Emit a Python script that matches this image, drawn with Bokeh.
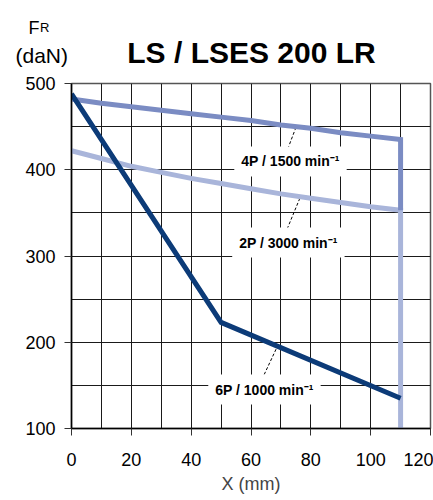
import numpy as np
from bokeh.plotting import figure
from bokeh.layouts import column
from bokeh.models import Label, SingleIntervalTicker, FixedTicker, Range1d
from bokeh.core.properties import value
from bokeh.embed import file_html
from bokeh.resources import INLINE

# ---- data ----
title_text = "LS / LSES 200 LR"
unit_main = "F"
unit_sub = "R"
unit_text = "(daN)"
x_label = "X (mm)"
x_ticks = [0, 20, 40, 60, 80, 100, 120]
y_ticks = [100, 200, 300, 400, 500]

# 4P / 1500 min-1 (ends with the vertical limit at X = 110)
x_4p = [0, 10, 20, 30, 40, 50, 60, 70, 80, 90, 100, 110, 110]
y_4p = [482, 477, 473, 469, 465, 461, 457, 452, 448, 443, 439, 435, 353]

# 2P / 3000 min-1
x_2p = [0, 10, 20, 30, 40, 50, 60, 70, 80, 90, 100, 110, 110]
y_2p = [422, 413, 404, 397, 390, 384, 378, 372, 367, 362, 357, 353, 100]

# 6P / 1000 min-1
x_6p = [0, 50, 110]
y_6p = [488, 223, 135]

names = ["4P / 1500 min\u207b\u00b9", "2P / 3000 min\u207b\u00b9", "6P / 1000 min\u207b\u00b9"]
colors = ["#7b8cc3", "#a9b5da", "#0c3b78"]

FONT = "Liberation Sans"
W, H = 433, 500
HEAD = 70

# ---------- header (title and unit) ----------
h = figure(width=W, height=HEAD, x_range=Range1d(0, W), y_range=Range1d(HEAD, 0),
           output_backend="svg", toolbar_location=None, min_border=0, title=None,
           x_axis_location=None, y_axis_location=None,
           background_fill_color="white", border_fill_color="white")
h.grid.visible = False
h.outline_line_color = None
h.text(x=[251], y=[52], text=[title_text], text_align="center", text_baseline="alphabetic",
       text_font=value(FONT), text_font_style="bold", text_font_size="30px", text_color="black")
h.text(x=[28], y=[27], text=[unit_main], text_align="left", text_baseline="alphabetic",
       text_font=value(FONT), text_font_size="18px", text_color="black")
h.text(x=[39.5], y=[27], text=[unit_sub], text_align="left", text_baseline="alphabetic",
       text_font=value(FONT), text_font_size="13px", text_color="black")
h.text(x=[15], y=[55], text=[unit_text], text_align="left", text_baseline="alphabetic",
       text_font=value(FONT), text_font_size="21px", text_color="black")

# ---------- main chart ----------
p = figure(width=W, height=H - HEAD, x_range=Range1d(0, 120), y_range=Range1d(100, 500),
           output_backend="svg", toolbar_location=None, title=None,
           min_border_left=71, min_border_right=3, min_border_top=13, min_border_bottom=72,
           background_fill_color="white", border_fill_color="white")

for fig in (h, p):
    try:
        fig.frame_align = False
    except Exception:
        pass

p.outline_line_color = "#555555"
p.outline_line_width = 1.5

p.xgrid.ticker = SingleIntervalTicker(interval=10)
p.ygrid.ticker = SingleIntervalTicker(interval=50)
for g in (p.xgrid, p.ygrid):
    g.grid_line_color = "#1a1a1a"
    g.grid_line_width = 1

p.xaxis.ticker = FixedTicker(ticks=x_ticks)
p.yaxis.ticker = FixedTicker(ticks=y_ticks)
for ax in (p.xaxis, p.yaxis):
    ax.axis_line_color = "black"
    ax.axis_line_width = 1.5
    ax.major_tick_out = 7
    ax.major_tick_in = 0
    ax.minor_tick_out = 0
    ax.minor_tick_in = 0
    ax.major_tick_line_color = "#333333"
    ax.major_label_text_font = FONT
    ax.major_label_text_font_size = "18px"
    ax.major_label_text_color = "black"
p.yaxis.major_label_standoff = 9
p.xaxis.major_label_standoff = 17
p.xaxis.axis_label = x_label
p.xaxis.axis_label_text_font = FONT
p.xaxis.axis_label_text_font_size = "18px"
p.xaxis.axis_label_text_font_style = "normal"
p.xaxis.axis_label_standoff = 5

# curves
p.line(x_2p, y_2p, line_width=5, color=colors[1], line_join="miter")
p.line(x_4p, y_4p, line_width=5, color=colors[0], line_join="miter")
p.line(x_6p, y_6p, line_width=5, color=colors[2], line_join="miter")

# leader lines + labels
label_pos = [(73.2, 409.6), (72.5, 315.6), (64.5, 145.2)]
leader_start = [(72.3, 424.3), (72.1, 331.5), (63.7, 157.3)]
leader_xend = [74.8, 76.2, 68.5]
series = [(x_4p, y_4p), (x_2p, y_2p), (x_6p, y_6p)]
x0s, y0s, x1s, y1s = [], [], [], []
for (sx, sy), xe, (xs, ys) in zip(leader_start, leader_xend, series):
    if xs[-1] == xs[-2]:
        xs, ys = xs[:-1], ys[:-1]
    ye = float(np.interp(xe, xs, ys)) - 3
    x0s.append(sx); y0s.append(sy); x1s.append(xe); y1s.append(ye)
p.segment(x0s, y0s, x1s, y1s, line_color="black", line_width=1, line_dash="3 2")

for (lx, ly), txt in zip(label_pos, names):
    p.add_layout(Label(x=lx, y=ly, text=txt, text_align="center", text_baseline="middle",
                       text_font=FONT, text_font_style="bold", text_font_size="14px",
                       text_color="black", background_fill_color="white",
                       padding=7))

layout = column(h, p, spacing=0)
open("out.html", "w").write(file_html(layout, INLINE))
